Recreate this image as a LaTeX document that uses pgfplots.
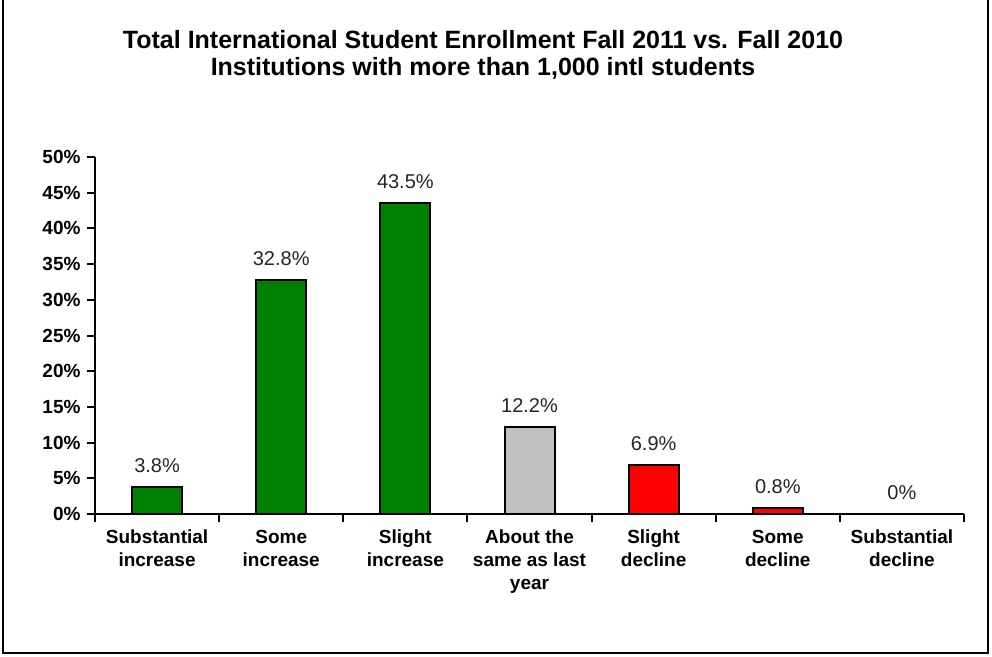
\documentclass[border=0pt]{standalone}
\usepackage{fontspec}
\setmainfont{Liberation Sans}
\usepackage{pgfplots}
\pgfplotsset{compat=1.18}
\definecolor{bargreen}{RGB}{0,128,0}
\definecolor{bargray}{RGB}{192,192,192}
\definecolor{barred}{RGB}{255,0,0}
\begin{document}
\begin{tikzpicture}
\useasboundingbox (0,0) rectangle (992pt,656pt);
\draw[line width=2pt] (3pt,656pt) -- (3pt,3pt) -- (988pt,3pt) -- (988pt,656pt);
\node[font=\bfseries\fontsize{25}{27}\selectfont, align=center] at (483pt,601pt)
  {Total International Student Enrollment Fall 2011 vs. Fall 2010\\
   Institutions with more than 1,000 intl students};
\begin{axis}[
  at={(95pt,142pt)}, anchor=south west,
  scale only axis, width=869pt, height=357pt,
  xmin=-0.5, xmax=6.5, ymin=0, ymax=50,
  enlargelimits=false,
  axis lines*=left,
  axis line style={line width=2.5pt},
  tick align=outside,
  major tick length=8pt,
  tick style={line width=2pt, black},
  ytick={0,5,...,50},
  yticklabel={\pgfmathprintnumber[assume math mode=true]{\tick}\%},
  yticklabel style={font=\bfseries\fontsize{19}{23}\selectfont, xshift=-3pt},
  xtick={-0.5,0.5,...,6.5},
  x tick label as interval,
  xticklabels={{\strut Substantial\\increase},{\strut Some\\increase},{\strut Slight\\increase},
    {\strut About the\\same as last\\year},{\strut Slight\\decline},{\strut Some\\decline},
    {\strut Substantial\\decline}},
  xticklabel style={font=\bfseries\fontsize{19}{23}\selectfont, align=center, anchor=north, yshift=-2pt},
  ybar, bar width=50pt, bar shift=0pt,
  nodes near coords={\pgfmathprintnumber[assume math mode=true]{\pgfplotspointmeta}\%},
  every node near coord/.append style={font=\fontsize{20}{24}\selectfont,
    text=black!85, yshift=10pt},
]
\addplot[fill=bargreen, draw=black, line width=2pt] coordinates {(0,3.8) (1,32.8) (2,43.5)};
\addplot[fill=bargray, draw=black, line width=2pt] coordinates {(3,12.2)};
\addplot[fill=barred, draw=black, line width=2pt] coordinates {(4,6.9) (5,0.8) (6,0)};
\end{axis}
\end{tikzpicture}
\end{document}
